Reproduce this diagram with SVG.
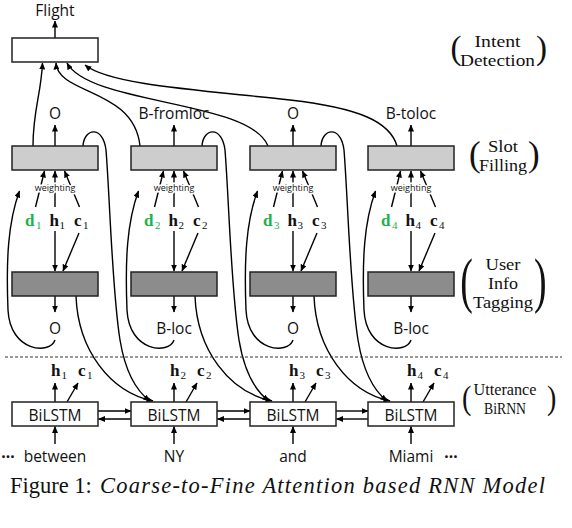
<svg xmlns="http://www.w3.org/2000/svg" width="572" height="528" viewBox="0 0 572 528">
<style>
.ln{fill:none;stroke:#000;stroke-width:1.4}
.ar{marker-end:url(#ah)}
.box{stroke:#222;stroke-width:1.5}
.wt{fill:#fff}
.sl{fill:#cdcdcd}
.tg{fill:#8c8c8c}
.lbl{font-family:"Open Sans","Liberation Sans",sans-serif;font-size:15.5px;fill:#111;text-anchor:middle}
.w{font-size:9px;stroke:#fff;stroke-width:3;paint-order:stroke}
.v{font-family:"Liberation Serif",serif;font-weight:bold;font-size:17px;fill:#111}
.g{fill:#22b14c}
.sub{font-weight:normal;font-size:11px}
.side{font-family:"Liberation Serif",serif;font-size:17px;fill:#111;text-anchor:middle}
.par{font-family:"Liberation Serif",serif;fill:#111}
.cap{font-family:"Liberation Serif",serif;font-size:22.5px;fill:#111}
</style>
<defs>
<marker id="ah" viewBox="0 0 7 6" refX="6.5" refY="3" markerWidth="7" markerHeight="6" markerUnits="userSpaceOnUse" orient="auto"><path d="M0,0 L7,3 L0,6 z" fill="#000"/></marker>
</defs>

<g id="connectors">
  <path class="ln ar" d="M55,38 V21"/>
  <path class="ln ar" d="M33,146 C33,110 41,95 42.5,63"/>
  <path class="ln ar" d="M140,146 C134,88 58,95 56,63"/>
  <path class="ln ar" d="M268,146 C250,100 90,105 67,63"/>
  <path class="ln ar" d="M397,146 C390,122 360,108 290,100 C200,90 110,85 85,65"/>
  <g id="col-conn-1">
    <path class="ln ar" d="M55,146 V125"/>
    <path class="ln ar" d="M35.5,207 L44.5,171"/><path class="ln ar" d="M55,207 V171"/><path class="ln ar" d="M79.5,207 L64.5,171"/>
    <path class="ln ar" d="M55,231 V271"/><path class="ln ar" d="M79,233 L63,271"/>
    <path class="ln ar" d="M55,296 V312"/>
    <path class="ln ar" d="M55,340 C50,355 10,352 8,310 C6,260 8,222 19.5,191"/>
    <path class="ln ar" d="M55,402 V383"/><path class="ln ar" d="M67,402 L78,383"/>
    <path class="ln ar" d="M55,444 V426.5"/>
    <path class="ln ar" d="M76,296 C78,350 110,392 153,401"/>
    <path class="ln ar" d="M83,146 C84,128 103,125 106,150 C110,200 112,290 120,340 C125,370 135,390 150,401"/>
    <path class="ln ar" d="M98,411 H131"/><path class="ln ar" d="M131,419 H98.5"/>
  </g>
  <g id="col-conn-2" transform="translate(119,0)">
    <path class="ln ar" d="M55,146 V125"/>
    <path class="ln ar" d="M35.5,207 L44.5,171"/><path class="ln ar" d="M55,207 V171"/><path class="ln ar" d="M79.5,207 L64.5,171"/>
    <path class="ln ar" d="M55,231 V271"/><path class="ln ar" d="M79,233 L63,271"/>
    <path class="ln ar" d="M55,296 V312"/>
    <path class="ln ar" d="M55,340 C50,355 10,352 8,310 C6,260 8,222 19.5,191"/>
    <path class="ln ar" d="M55,402 V383"/><path class="ln ar" d="M67,402 L78,383"/>
    <path class="ln ar" d="M55,444 V426.5"/>
    <path class="ln ar" d="M76,296 C78,350 110,392 153,401"/>
    <path class="ln ar" d="M83,146 C84,128 103,125 106,150 C110,200 112,290 120,340 C125,370 135,390 150,401"/>
    <path class="ln ar" d="M98,411 H131"/><path class="ln ar" d="M131,419 H98.5"/>
  </g>
  <g id="col-conn-3" transform="translate(238,0)">
    <path class="ln ar" d="M55,146 V125"/>
    <path class="ln ar" d="M35.5,207 L44.5,171"/><path class="ln ar" d="M55,207 V171"/><path class="ln ar" d="M79.5,207 L64.5,171"/>
    <path class="ln ar" d="M55,231 V271"/><path class="ln ar" d="M79,233 L63,271"/>
    <path class="ln ar" d="M55,296 V312"/>
    <path class="ln ar" d="M55,340 C50,355 10,352 8,310 C6,260 8,222 19.5,191"/>
    <path class="ln ar" d="M55,402 V383"/><path class="ln ar" d="M67,402 L78,383"/>
    <path class="ln ar" d="M55,444 V426.5"/>
    <path class="ln ar" d="M76,296 C78,350 110,392 152,401"/>
    <path class="ln ar" d="M83,146 C84,128 103,125 106,150 C110,200 112,290 120,340 C125,370 135,390 149,401"/>
    <path class="ln ar" d="M98,411 H130"/><path class="ln ar" d="M130,419 H98.5"/>
  </g>
  <g id="col-conn-4" transform="translate(356,0)">
    <path class="ln ar" d="M55,146 V125"/>
    <path class="ln ar" d="M35.5,207 L44.5,171"/><path class="ln ar" d="M55,207 V171"/><path class="ln ar" d="M79.5,207 L64.5,171"/>
    <path class="ln ar" d="M55,231 V271"/><path class="ln ar" d="M79,233 L63,271"/>
    <path class="ln ar" d="M55,296 V312"/>
    <path class="ln ar" d="M55,340 C50,355 10,352 8,310 C6,260 8,222 19.5,191"/>
    <path class="ln ar" d="M55,402 V383"/><path class="ln ar" d="M67,402 L78,383"/>
    <path class="ln ar" d="M55,444 V426.5"/>
  </g>
  <line x1="5" y1="357" x2="562" y2="357" stroke="#333" stroke-width="1" stroke-dasharray="3 2"/>
</g>

<g id="intent">
  <rect class="box wt" x="12" y="38" width="86" height="24"/>
  <text class="lbl" x="55" y="16" font-size="14.5">Flight</text>
</g>

<g id="col1" transform="translate(0,0)">
  <g id="slot1"><rect class="box sl" x="12" y="146" width="86" height="24"/><text class="lbl" x="55" y="119">O</text></g>
  <text class="lbl w" x="55" y="190.5">weighting</text>
  <text class="v" y="226"><tspan class="g" x="25">d</tspan><tspan class="g sub" x="36" y="229">1</tspan><tspan x="49.5" y="226">h</tspan><tspan class="sub" x="59.5" y="229">1</tspan><tspan x="74" y="226">c</tspan><tspan class="sub" x="83" y="229">1</tspan></text>
  <g id="tag1"><rect class="box tg" x="12" y="272" width="86" height="24"/><text class="lbl" x="55" y="334">O</text></g>
  <text class="v" y="375.5"><tspan x="51">h</tspan><tspan class="sub" x="61.5" y="378.5">1</tspan><tspan x="78" y="375.5">c</tspan><tspan class="sub" x="87" y="378.5">1</tspan></text>
  <g id="bilstm1"><rect class="box wt" x="12" y="402" width="86" height="24"/><text class="lbl" x="55" y="420.5">BiLSTM</text></g>
  <text class="lbl" x="55" y="462">between</text>
</g>

<g id="col2" transform="translate(119,0)">
  <g id="slot2"><rect class="box sl" x="12" y="146" width="86" height="24"/><text class="lbl" x="55" y="119">B-fromloc</text></g>
  <text class="lbl w" x="55" y="190.5">weighting</text>
  <text class="v" y="226"><tspan class="g" x="25">d</tspan><tspan class="g sub" x="36" y="229">2</tspan><tspan x="49.5" y="226">h</tspan><tspan class="sub" x="59.5" y="229">2</tspan><tspan x="74" y="226">c</tspan><tspan class="sub" x="83" y="229">2</tspan></text>
  <g id="tag2"><rect class="box tg" x="12" y="272" width="86" height="24"/><text class="lbl" x="55" y="334">B-loc</text></g>
  <text class="v" y="375.5"><tspan x="51">h</tspan><tspan class="sub" x="61.5" y="378.5">2</tspan><tspan x="78" y="375.5">c</tspan><tspan class="sub" x="87" y="378.5">2</tspan></text>
  <g id="bilstm2"><rect class="box wt" x="12" y="402" width="86" height="24"/><text class="lbl" x="55" y="420.5">BiLSTM</text></g>
  <text class="lbl" x="55" y="462">NY</text>
</g>

<g id="col3" transform="translate(238,0)">
  <g id="slot3"><rect class="box sl" x="12" y="146" width="86" height="24"/><text class="lbl" x="55" y="119">O</text></g>
  <text class="lbl w" x="55" y="190.5">weighting</text>
  <text class="v" y="226"><tspan class="g" x="25">d</tspan><tspan class="g sub" x="36" y="229">3</tspan><tspan x="49.5" y="226">h</tspan><tspan class="sub" x="59.5" y="229">3</tspan><tspan x="74" y="226">c</tspan><tspan class="sub" x="83" y="229">3</tspan></text>
  <g id="tag3"><rect class="box tg" x="12" y="272" width="86" height="24"/><text class="lbl" x="55" y="334">O</text></g>
  <text class="v" y="375.5"><tspan x="51">h</tspan><tspan class="sub" x="61.5" y="378.5">3</tspan><tspan x="78" y="375.5">c</tspan><tspan class="sub" x="87" y="378.5">3</tspan></text>
  <g id="bilstm3"><rect class="box wt" x="12" y="402" width="86" height="24"/><text class="lbl" x="55" y="420.5">BiLSTM</text></g>
  <text class="lbl" x="55" y="462">and</text>
</g>

<g id="col4" transform="translate(356,0)">
  <g id="slot4"><rect class="box sl" x="12" y="146" width="86" height="24"/><text class="lbl" x="55" y="119">B-toloc</text></g>
  <text class="lbl w" x="55" y="190.5">weighting</text>
  <text class="v" y="226"><tspan class="g" x="25">d</tspan><tspan class="g sub" x="36" y="229">4</tspan><tspan x="49.5" y="226">h</tspan><tspan class="sub" x="59.5" y="229">4</tspan><tspan x="74" y="226">c</tspan><tspan class="sub" x="83" y="229">4</tspan></text>
  <g id="tag4"><rect class="box tg" x="12" y="272" width="86" height="24"/><text class="lbl" x="55" y="334">B-loc</text></g>
  <text class="v" y="375.5"><tspan x="51">h</tspan><tspan class="sub" x="61.5" y="378.5">4</tspan><tspan x="78" y="375.5">c</tspan><tspan class="sub" x="87" y="378.5">4</tspan></text>
  <g id="bilstm4"><rect class="box wt" x="12" y="402" width="86" height="24"/><text class="lbl" x="55" y="420.5">BiLSTM</text></g>
  <text class="lbl" x="55" y="462">Miami</text>
</g>

<text class="lbl" x="8" y="462" font-weight="bold">···</text>
<text class="lbl" x="451" y="462" font-weight="bold">···</text>

<g id="side-labels">
  <g id="lbl-intent">
    <text class="par" font-size="33" x="450.4" y="59.2">(</text>
    <text class="par" font-size="33" x="536" y="59.2">)</text>
    <text class="side" x="497.5" y="46.5" textLength="46" lengthAdjust="spacingAndGlyphs">Intent</text>
    <text class="side" x="497.5" y="66" textLength="75" lengthAdjust="spacingAndGlyphs">Detection</text>
  </g>
  <g id="lbl-slot">
    <text class="par" font-size="35" x="469" y="165.5">(</text>
    <text class="par" font-size="35" x="528" y="165.5">)</text>
    <text class="side" x="503" y="152" textLength="30" lengthAdjust="spacingAndGlyphs">Slot</text>
    <text class="side" x="503" y="170.5" textLength="48" lengthAdjust="spacingAndGlyphs">Filling</text>
  </g>
  <g id="lbl-tag">
    <text class="par" font-size="61" transform="translate(460.2,301.2) scale(0.62,1)">(</text>
    <text class="par" font-size="61" transform="translate(534,301.2) scale(0.62,1)">)</text>
    <text class="side" x="503" y="270" textLength="35" lengthAdjust="spacingAndGlyphs">User</text>
    <text class="side" x="503" y="289" textLength="30" lengthAdjust="spacingAndGlyphs">Info</text>
    <text class="side" x="503" y="307.5" textLength="60" lengthAdjust="spacingAndGlyphs">Tagging</text>
  </g>
  <g id="lbl-utt">
    <text class="par" font-size="33" transform="translate(462,409.2) scale(0.85,1)">(</text>
    <text class="par" font-size="33" transform="translate(547,409.2) scale(0.85,1)">)</text>
    <text class="side" x="505" y="395" font-size="16" textLength="63" lengthAdjust="spacingAndGlyphs">Utterance</text>
    <text class="side" x="505" y="414" font-size="16" textLength="42" lengthAdjust="spacingAndGlyphs">BiRNN</text>
  </g>
</g>

<g id="caption">
  <text class="cap" x="10" y="493">Figure 1:</text>
  <text class="cap" x="100" y="493" font-size="23.5" font-style="italic" textLength="445" lengthAdjust="spacing">Coarse-to-Fine Attention based RNN Model</text>
</g>
</svg>
